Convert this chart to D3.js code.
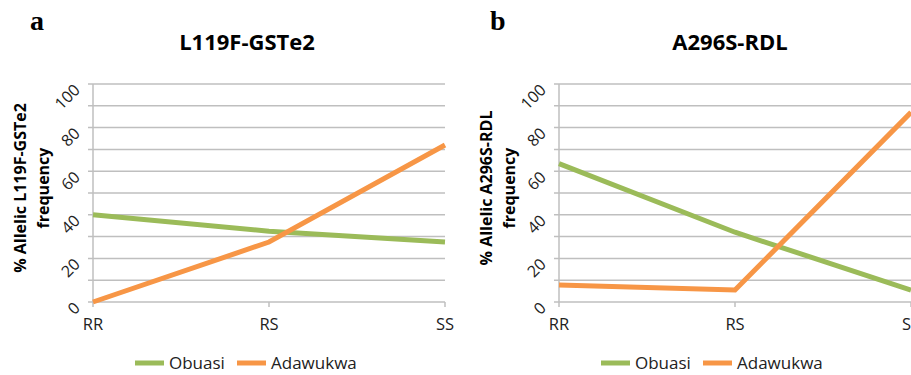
<!DOCTYPE html>
<html>
<head>
<meta charset="utf-8">
<script src="https://d3js.org/d3.v7.min.js"></script>
<style>
  body { margin: 0; background: #fff; }
  text { font-family: "Open Sans", "Noto Sans", sans-serif; }
</style>
</head>
<body>
<script>
    var genotypes = ['RR', 'RS', 'SS'];
    var yTicks = [0, 20, 40, 60, 80, 100];
    var seriesNames = ['Obuasi', 'Adawukwa'];
    var seriesColors = ['#9bbb59', '#f79646'];

    // panel a: L119F-GSTe2
    var gste2Obuasi = [40, 32.5, 27.5];
    var gste2Adawukwa = [0, 27.5, 72];
    // panel b: A296S-RDL
    var rdlObuasi = [63.5, 32, 5.5];
    var rdlAdawukwa = [7.8, 5.5, 87];

    var panels = [
        {letter: 'a', title: 'L119F-GSTe2', ylabel: '% Allelic L119F-GSTe2', series: [gste2Obuasi, gste2Adawukwa],
         x0: 93, x1: 445, letterX: 30, titleX: 247, axisTitleX: 20, legendX: 135},
        {letter: 'b', title: 'A296S-RDL', ylabel: '% Allelic A296S-RDL', series: [rdlObuasi, rdlAdawukwa],
         x0: 559, x1: 911, letterX: 490, titleX: 730, axisTitleX: 486, legendX: 601}
    ];

    var svg = d3.select('body').append('svg')
        .attr('width', 911)
        .attr('height', 375);

    var y = d3.scaleLinear().domain([0, 100]).range([302, 84]);

    panels.forEach(p => {
        var g = svg.append('g');
        var x = d3.scalePoint().domain(genotypes).range([p.x0, p.x1]);

        // grid lines every 10
        g.selectAll('line.grid')
            .data(d3.range(10, 101, 10))
            .enter().append('line')
            .attr('x1', p.x0 - 5).attr('x2', p.x1)
            .attr('y1', d => y(d)).attr('y2', d => y(d))
            .attr('stroke', '#bfbfbf')
            .attr('stroke-width', 1.5);

        // y axis line + baseline
        g.append('line')
            .attr('x1', p.x0).attr('x2', p.x0)
            .attr('y1', y(100)).attr('y2', y(0))
            .attr('stroke', '#bfbfbf').attr('stroke-width', 1.5);
        g.append('line')
            .attr('x1', p.x0 - 5).attr('x2', p.x1)
            .attr('y1', y(0)).attr('y2', y(0))
            .attr('stroke', '#bfbfbf').attr('stroke-width', 1.5);
        g.selectAll('line.xt')
            .data(genotypes)
            .enter().append('line')
            .attr('x1', d => x(d)).attr('x2', d => x(d))
            .attr('y1', y(0)).attr('y2', y(0) + 5)
            .attr('stroke', '#bfbfbf').attr('stroke-width', 1.5);

        // y tick labels, rotated
        g.selectAll('text.yt')
            .data(yTicks)
            .enter().append('text')
            .attr('transform', d => 'translate(' + (p.x0 - 12) + ',' + (y(d) + 7) + ') rotate(-45)')
            .attr('text-anchor', 'end')
            .attr('font-size', 16)
            .attr('fill', '#222')
            .text(d => d);

        // x tick labels
        g.selectAll('text.xt')
            .data(genotypes)
            .enter().append('text')
            .attr('x', d => x(d))
            .attr('y', 330)
            .attr('text-anchor', 'middle')
            .attr('font-size', 16.5)
            .attr('fill', '#222')
            .text(d => d);

        // series lines
        var line = d3.line()
            .x((d, i) => x(genotypes[i]))
            .y(d => y(d));
        p.series.forEach((s, i) => {
            g.append('path')
                .datum(s)
                .attr('d', line)
                .attr('fill', 'none')
                .attr('stroke', seriesColors[i])
                .attr('stroke-width', 5);
        });

        // panel letter
        g.append('text')
            .attr('x', p.letterX).attr('y', 30)
            .style('font-family', '"Liberation Serif", serif')
            .attr('font-weight', 'bold')
            .attr('font-size', 28)
            .text(p.letter);

        // title
        g.append('text')
            .attr('x', p.titleX).attr('y', 50)
            .attr('text-anchor', 'middle')
            .attr('font-weight', 'bold')
            .attr('font-size', 22)
            .text(p.title);

        // y axis title
        var yt = g.append('text')
            .attr('transform', 'translate(' + p.axisTitleX + ',188) rotate(-90)')
            .attr('text-anchor', 'middle')
            .attr('font-weight', 'bold')
            .attr('font-size', 16);
        yt.append('tspan').attr('x', 0).attr('dy', '0.35em').text(p.ylabel);
        yt.append('tspan').attr('x', 0).attr('dy', '1.45em').text('frequency');

        // legend
        var lg = g.append('g').attr('transform', 'translate(' + p.legendX + ',363)');
        var offs = [0, 102];
        seriesNames.forEach((n, i) => {
            lg.append('line')
                .attr('x1', offs[i]).attr('x2', offs[i] + 29)
                .attr('y1', 0).attr('y2', 0)
                .attr('stroke', seriesColors[i])
                .attr('stroke-width', 5);
            lg.append('text')
                .attr('x', offs[i] + 34).attr('y', 6)
                .attr('font-size', 17)
                .attr('fill', '#222')
                .text(n);
        });
    });
</script>
</body>
</html>
